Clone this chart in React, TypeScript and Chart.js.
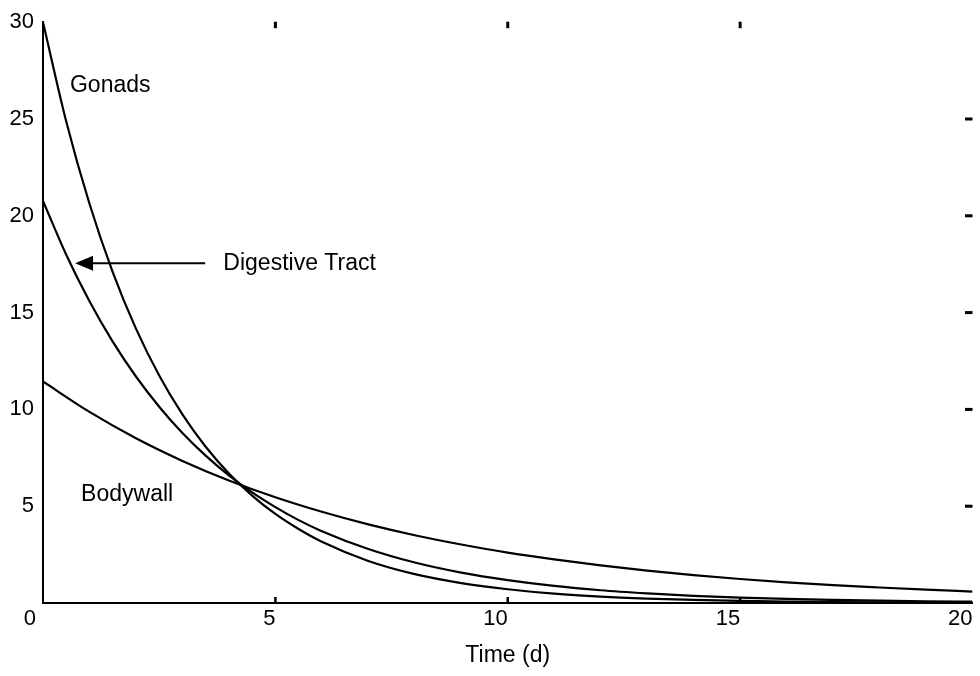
import React, { useEffect, useRef } from 'react';
import { Chart, registerables } from 'chart.js';

Chart.register(...registerables);

const FONT = '"Liberation Sans", Arial, Helvetica, sans-serif';

// Time (d)
const earlyDays = [0, 0.5, 1, 1.5, 2, 2.5, 3, 3.5, 4, 4.5, 5, 5.5, 6, 7, 8, 9, 10, 11, 12, 13, 14, 15, 16, 17, 18, 19, 20];
const wholeDays = [0, 1, 2, 3, 4, 5, 6, 7, 8, 9, 10, 11, 12, 13, 14, 15, 16, 17, 18, 19, 20];

// Series values
const gonads = [30, 24.87, 20.62, 17.09, 14.17, 11.75, 9.74, 8.07, 6.69, 5.55, 4.6, 3.82, 3.16, 2.17, 1.49, 1.03, 0.71, 0.48, 0.33, 0.23, 0.16, 0.11, 0.07, 0.05, 0.035, 0.024, 0.017];
const digestiveTract = [20.77, 17.99, 15.59, 13.5, 11.7, 10.14, 8.78, 7.61, 6.59, 5.71, 4.95, 4.28, 3.71, 2.79, 2.09, 1.57, 1.18, 0.88, 0.66, 0.5, 0.37, 0.28, 0.21, 0.16, 0.12, 0.09, 0.07];
const bodywall = [11.44, 9.87, 8.51, 7.34, 6.33, 5.46, 4.71, 4.06, 3.5, 3.02, 2.6, 2.25, 1.94, 1.67, 1.44, 1.24, 1.07, 0.92, 0.8, 0.69, 0.59];

// Tick values
const xTickValues = [0, 5, 10, 15, 20];
const yTickValues = [0, 5, 10, 15, 20, 25, 30];
const topTickMarks = [5, 10, 15];
const bottomTickMarks = [5, 10, 15];
const rightTickMarks = [5, 10, 15, 20, 25];

// Annotation texts (data coordinates)
const annotationTexts = ['Gonads', 'Digestive Tract', 'Bodywall'];
const annotationX = [0.58, 3.88, 0.82];
const annotationY = [26.4, 17.18, 5.26];
const arrowTail = [3.49, 17.55];
const arrowTip = [0.69, 17.55];

const toPoints = (xs: number[], ys: number[]) => ys.map((y, i) => ({ x: xs[i], y }));

const decorPlugin = {
  id: 'decor',
  afterDraw(chart: any) {
    const ctx = chart.ctx;
    const xs = chart.scales.x;
    const ys = chart.scales.y;
    ctx.save();
    ctx.fillStyle = '#000';
    ctx.strokeStyle = '#000';
    topTickMarks.forEach((v) => {
      const px = xs.getPixelForValue(v);
      ctx.fillRect(px - 1.5, ys.top - 0.5, 3, 6.5);
    });
    bottomTickMarks.forEach((v) => {
      const px = xs.getPixelForValue(v);
      ctx.fillRect(px - 1.25, ys.bottom - 6, 2.5, 6);
    });
    rightTickMarks.forEach((v) => {
      const py = ys.getPixelForValue(v);
      ctx.fillRect(xs.right - 7.5, py - 1.5, 7.5, 3);
    });
    // origin label
    ctx.font = `22px ${FONT}`;
    ctx.textAlign = 'right';
    ctx.textBaseline = 'alphabetic';
    ctx.fillText('0', xs.getPixelForValue(0) - 7, ys.bottom + 22);
    // annotations
    ctx.font = `23px ${FONT}`;
    ctx.textAlign = 'left';
    annotationTexts.forEach((t, i) => {
      ctx.fillText(t, xs.getPixelForValue(annotationX[i]), ys.getPixelForValue(annotationY[i]));
    });
    // arrow
    const tx = xs.getPixelForValue(arrowTail[0]);
    const ty = ys.getPixelForValue(arrowTail[1]);
    const hx = xs.getPixelForValue(arrowTip[0]);
    const hy = ys.getPixelForValue(arrowTip[1]);
    ctx.lineWidth = 2;
    ctx.beginPath();
    ctx.moveTo(tx, ty);
    ctx.lineTo(hx + 16, hy);
    ctx.stroke();
    ctx.beginPath();
    ctx.moveTo(hx, hy);
    ctx.lineTo(hx + 18, hy - 7.5);
    ctx.lineTo(hx + 18, hy + 7.5);
    ctx.closePath();
    ctx.fill();
    ctx.restore();
  },
};

export default function App() {
  const canvasRef = useRef<HTMLCanvasElement | null>(null);

  useEffect(() => {
    if (!canvasRef.current) return;
    const lineStyle = {
      borderColor: '#000',
      borderWidth: 2.2,
      pointRadius: 0,
      fill: false,
      cubicInterpolationMode: 'monotone' as const,
    };
    const chart = new Chart(canvasRef.current, {
      type: 'line',
      data: {
        datasets: [
          { label: 'Gonads', data: toPoints(earlyDays, gonads), ...lineStyle },
          { label: 'Digestive Tract', data: toPoints(earlyDays, digestiveTract), ...lineStyle },
          { label: 'Bodywall', data: toPoints(wholeDays, bodywall), ...lineStyle },
        ],
      },
      options: {
        animation: false,
        responsive: true,
        maintainAspectRatio: false,
        layout: { padding: { left: 0, right: 7.5, top: 17.5, bottom: 0 } },
        plugins: { legend: { display: false }, tooltip: { enabled: false } },
        scales: {
          x: {
            type: 'linear',
            min: 0,
            max: 20,
            afterBuildTicks: (s: any) => {
              s.ticks = xTickValues.map((v) => ({ value: v }));
            },
            afterFit: (s: any) => {
              s.height = 73;
            },
            grid: { display: false, drawTicks: false },
            border: { display: true, color: '#000', width: 2 },
            ticks: {
              align: 'end',
              padding: 3,
              color: '#000',
              font: { family: FONT, size: 22 },
              callback: (v: any) => (Number(v) === 0 ? '' : String(v)),
              maxRotation: 0,
            },
            title: {
              display: true,
              text: 'Time (d)',
              color: '#000',
              font: { family: FONT, size: 23 },
              padding: { top: 0, bottom: 7 },
            },
          },
          y: {
            type: 'linear',
            min: 0,
            max: 30,
            afterBuildTicks: (s: any) => {
              s.ticks = yTickValues.map((v) => ({ value: v }));
            },
            afterFit: (s: any) => {
              s.width = 43;
            },
            grid: { display: false, drawTicks: false },
            border: { display: true, color: '#000', width: 2 },
            ticks: {
              padding: 9,
              color: '#000',
              font: { family: FONT, size: 22 },
              callback: (v: any) => (Number(v) === 0 ? '' : String(v)),
            },
          },
        },
      },
      plugins: [decorPlugin],
    });
    return () => chart.destroy();
  }, []);

  return (
    <div style={{ position: 'absolute', left: 0, top: 0, width: 980, height: 676, background: '#fff' }}>
      <canvas ref={canvasRef} />
    </div>
  );
}
